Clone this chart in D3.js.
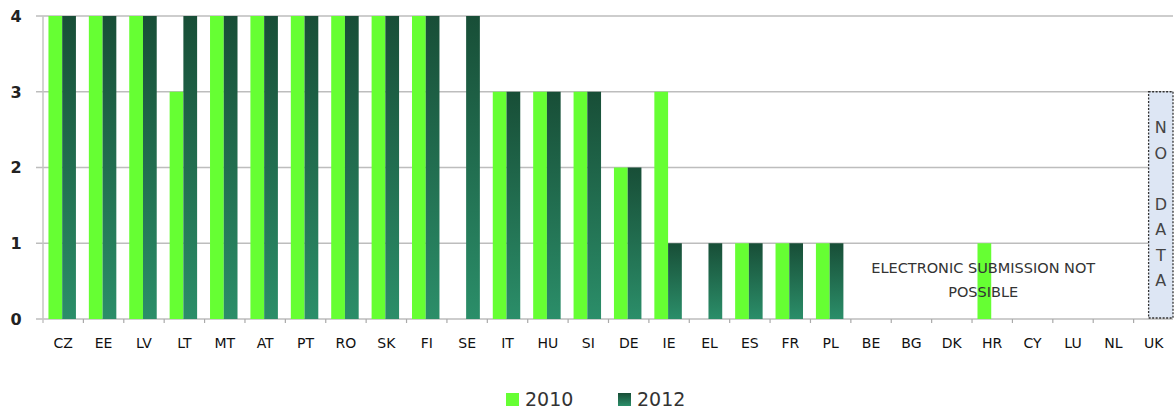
<html>
  <head>
    <meta charset="utf-8">
    <title>Electronic submission</title>
    <script src="https://d3js.org/d3.v7.min.js" charset="utf-8"></script>
    <style>
      body { margin: 0; background: #fff; }
      text { font-family: "DejaVu Sans", Verdana, sans-serif; }
    </style>
  </head>
  <body>
    <script>
      // chart values
      var countries = ["CZ","EE","LV","LT","MT","AT","PT","RO","SK","FI","SE","IT","HU","SI",
                       "DE","IE","EL","ES","FR","PL","BE","BG","DK","HR","CY","LU","NL","UK"];
      var years = ["2010", "2012"];
      var values2010 = [4,4,4,3,4,4,4,4,4,4,0,3,3,3,2,3,0,1,1,1,0,0,0,1,0,0,0,null];
      var values2012 = [4,4,4,4,4,4,4,4,4,4,4,3,3,3,2,1,1,1,1,1,0,0,0,0,0,0,0,null];
      var yTicks = [0, 1, 2, 3, 4];
      var noteLines = ["ELECTRONIC SUBMISSION NOT", "POSSIBLE"];
      var noDataLetters = ["N", "O", "", "D", "A", "T", "A"];

      var width = 1175,
          height = 414;
      var plotLeft = 42, plotRight = 1173, plotTop = 16, plotBottom = 319;

      var svg = d3.select("body").append("svg")
        .attr("width", width)
        .attr("height", height);

      // gradient for the 2012 bars
      var grad = svg.append("defs").append("linearGradient")
        .attr("id", "g2012")
        .attr("x1", 0).attr("y1", 0).attr("x2", 0).attr("y2", 1);
      grad.append("stop").attr("offset", "0%").attr("stop-color", "#184e37");
      grad.append("stop").attr("offset", "100%").attr("stop-color", "#2b8e69");

      var x = d3.scaleBand()
        .domain(countries)
        .range([plotLeft, plotRight]);

      var x1 = d3.scaleBand()
        .domain(years)
        .range([0, x.bandwidth()])
        .paddingOuter(0.47);

      var y = d3.scaleLinear()
        .domain([0, 4])
        .range([plotBottom, plotTop]);

      // gridlines
      svg.append("g").selectAll("line")
        .data(yTicks)
        .enter()
        .append("line")
        .attr("x1", plotLeft - 6)
        .attr("x2", plotRight)
        .attr("y1", function(d) { return y(d); })
        .attr("y2", function(d) { return y(d); })
        .attr("stroke", "#bdbdbd")
        .attr("stroke-width", 1.5);

      // left axis line
      svg.append("line")
        .attr("x1", plotLeft + 1).attr("x2", plotLeft + 1)
        .attr("y1", y(4)).attr("y2", y(0) + 4)
        .attr("stroke", "#c4c4c4")
        .attr("stroke-width", 1.5);

      // y labels
      svg.append("g").selectAll("text")
        .data(yTicks)
        .enter()
        .append("text")
        .attr("x", 16)
        .attr("y", function(d) { return y(d); })
        .attr("dy", "0.36em")
        .attr("text-anchor", "middle")
        .attr("font-size", 16)
        .attr("font-weight", "bold")
        .attr("fill", "#222")
        .text(function(d) { return d; });

      // x ticks at band boundaries
      svg.append("g").selectAll("line")
        .data(countries.slice(1))
        .enter()
        .append("line")
        .attr("x1", function(d) { return x(d) + 1; })
        .attr("x2", function(d) { return x(d) + 1; })
        .attr("y1", plotBottom)
        .attr("y2", plotBottom + 4)
        .attr("stroke", "#aaa")
        .attr("stroke-width", 1.2);

      // x labels
      svg.append("g").selectAll("text")
        .data(countries)
        .enter()
        .append("text")
        .attr("x", function(d) { return x(d) + x.bandwidth() / 2 + 1; })
        .attr("y", 348)
        .attr("text-anchor", "middle")
        .attr("font-size", 14)
        .attr("fill", "#111")
        .text(function(d) { return d; });

      // bars
      var rows = countries.map(function(c, i) {
        return { c: c, v: [values2010[i], values2012[i]] };
      });

      years.forEach(function(yr, k) {
        svg.append("g").selectAll("rect")
          .data(rows.filter(function(d) { return d.v[k] > 0; }))
          .enter()
          .append("rect")
          .attr("x", function(d) { return x(d.c) + x1(yr); })
          .attr("width", x1.bandwidth())
          .attr("y", function(d) { return y(d.v[k]); })
          .attr("height", function(d) { return y(0) - y(d.v[k]); })
          .attr("fill", k == 0 ? "#66ff33" : "url(#g2012)");
      });

      // note over the empty countries
      var noteX = (x("BE") + x("NL") + x.bandwidth()) / 2 - 8;
      svg.append("g").selectAll("text")
        .data(noteLines)
        .enter()
        .append("text")
        .attr("x", noteX)
        .attr("y", function(d, i) { return 273 + i * 24; })
        .attr("text-anchor", "middle")
        .attr("font-family", "'DejaVu Sans Condensed', 'DejaVu Sans', sans-serif")
        .attr("font-size", 14.5)
        .attr("fill", "#333")
        .text(function(d) { return d; });

      // no data box for UK
      var boxX = x("UK") + 16;
      svg.append("rect")
        .attr("x", boxX)
        .attr("y", y(3))
        .attr("width", plotRight - boxX)
        .attr("height", y(0) - y(3) - 1)
        .attr("fill", "#dde6f4")
        .attr("stroke", "#333")
        .attr("stroke-width", 1.3)
        .attr("stroke-dasharray", "2,1.5");

      svg.append("g").selectAll("text")
        .data(noDataLetters)
        .enter()
        .append("text")
        .attr("x", boxX + (plotRight - boxX) / 2)
        .attr("y", function(d, i) { return 133 + i * 25.5; })
        .attr("text-anchor", "middle")
        .attr("font-size", 16)
        .attr("fill", "#444")
        .text(function(d) { return d; });

      // legend
      var legendX = [506, 618];
      var legend = svg.append("g").selectAll("g")
        .data(years)
        .enter()
        .append("g")
        .attr("transform", function(d, i) { return "translate(" + legendX[i] + ",393)"; });
      legend.append("rect")
        .attr("width", 13)
        .attr("height", 13)
        .attr("fill", function(d, i) { return i == 0 ? "#66ff33" : "url(#g2012)"; });
      legend.append("text")
        .attr("x", 19)
        .attr("y", 13)
        .attr("font-size", 19)
        .attr("fill", "#333")
        .text(function(d) { return d; });
    </script>
  </body>
</html>
